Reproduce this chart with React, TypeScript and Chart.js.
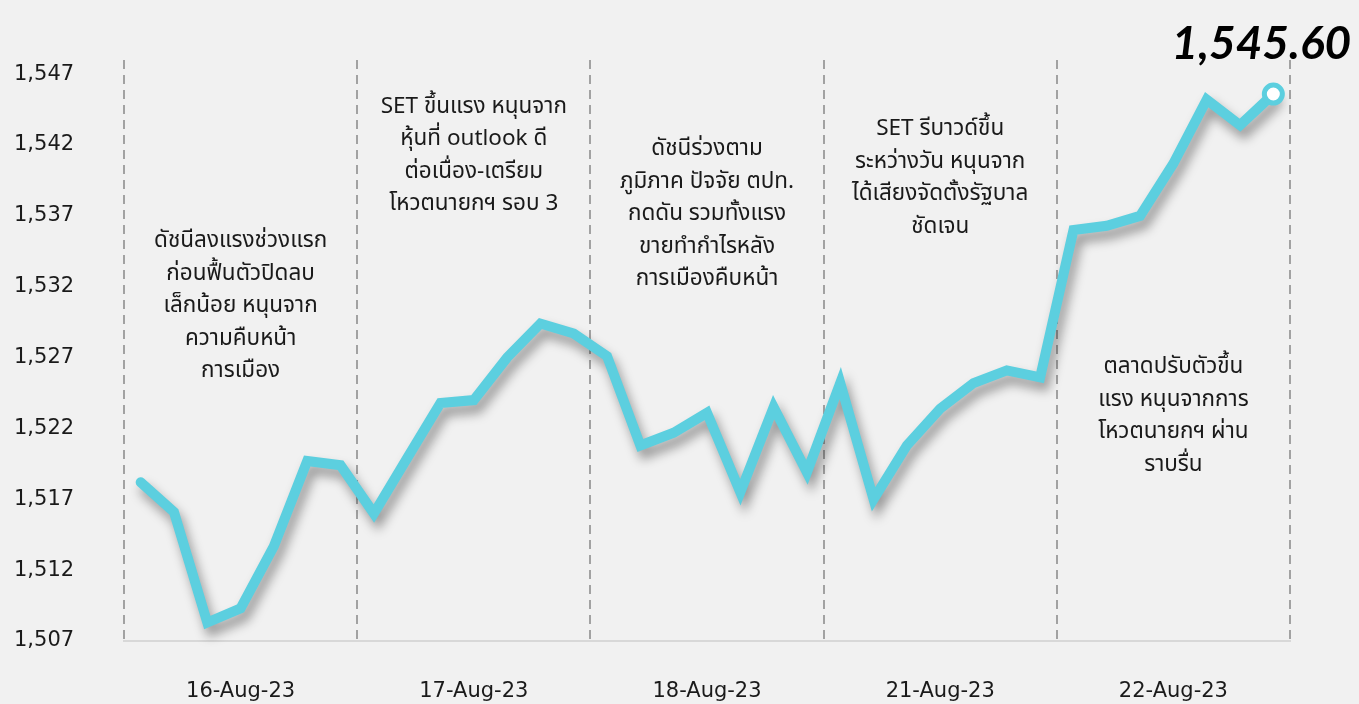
import { useEffect, useRef } from 'react';
import { Chart, registerables } from 'chart.js';

Chart.register(...registerables);

// ---------- data ----------
const days = ['16-Aug-23', '17-Aug-23', '18-Aug-23', '21-Aug-23', '22-Aug-23'];
const pointsPerDay = 7;
const xCategories = days.flatMap((d) => Array.from({ length: pointsPerDay }, () => d));

const setIndexValues = [
  1518.2, 1516.1, 1508.3, 1509.3, 1513.7, 1519.7, 1519.4,
  1516.0, 1519.9, 1523.8, 1524.0, 1527.0, 1529.4, 1528.7,
  1527.1, 1520.8, 1521.7, 1523.1, 1517.5, 1523.5, 1518.9,
  1525.2, 1517.0, 1520.8, 1523.4, 1525.2, 1526.1, 1525.6,
  1536.0, 1536.3, 1537.0, 1540.7, 1545.2, 1543.4, 1545.6,
];

const yTickValues = [1507, 1512, 1517, 1522, 1527, 1532, 1537, 1542, 1547];
const yMin = 1507;
const yMax = 1548;

const lastValueLabel = '1,545.60';

const dayNotes: string[][] = [
  ['ดัชนีลงแรงช่วงแรก', 'ก่อนฟื้นตัวปิดลบ', 'เล็กน้อย หนุนจาก', 'ความคืบหน้า', 'การเมือง'],
  ['SET ขึ้นแรง หนุนจาก', 'หุ้นที่ outlook ดี', 'ต่อเนื่อง-เตรียม', 'โหวตนายกฯ รอบ 3'],
  ['ดัชนีร่วงตาม', 'ภูมิภาค ปัจจัย ตปท.', 'กดดัน รวมทั้งแรง', 'ขายทำกำไรหลัง', 'การเมืองคืบหน้า'],
  ['SET รีบาวด์ขึ้น', 'ระหว่างวัน หนุนจาก', 'ได้เสียงจัดตั้งรัฐบาล', 'ชัดเจน'],
  ['ตลาดปรับตัวขึ้น', 'แรง หนุนจากการ', 'โหวตนายกฯ ผ่าน', 'ราบรื่น'],
];
// value on the y scale where the first line of each note sits
const dayNoteTopValues = [1535.1, 1544.6, 1541.6, 1543.0, 1526.2];

// ---------- styles ----------
const LINE_COLOR = '#5ccfdf';
const BG = '#f1f1f1';
const GRID_COLOR = '#a2a2a2';
const TEXT_COLOR = '#1a1a1a';
const THAI_FONT = "'Noto Sans Thai', 'Noto Sans', 'DejaVu Sans', sans-serif";

export default function App() {
  const canvasRef = useRef<HTMLCanvasElement | null>(null);

  useEffect(() => {
    const canvas = canvasRef.current;
    if (!canvas) return;

    const bgPlugin = {
      id: 'bg',
      beforeDraw(chart: any) {
        const { ctx, width, height } = chart;
        ctx.save();
        ctx.fillStyle = BG;
        ctx.fillRect(0, 0, width, height);
        ctx.restore();
      },
    };

    const shadowPlugin = {
      id: 'lineShadow',
      beforeDatasetDraw(chart: any) {
        const ctx = chart.ctx;
        ctx.save();
        ctx.shadowColor = 'rgba(0,0,0,0.38)';
        ctx.shadowBlur = 11;
        ctx.shadowOffsetX = 4;
        ctx.shadowOffsetY = 8;
      },
      afterDatasetDraw(chart: any) {
        chart.ctx.restore();
      },
    };

    const lastIdx = setIndexValues.length - 1;

    const notesPlugin = {
      id: 'notes',
      afterDatasetsDraw(chart: any) {
        const { ctx, scales } = chart;
        const xs = scales.x;
        const ys = scales.y;
        ctx.save();
        ctx.fillStyle = TEXT_COLOR;
        ctx.textAlign = 'center';
        ctx.textBaseline = 'middle';
        ctx.font = `22.5px ${THAI_FONT}`;
        dayNotes.forEach((lines, d) => {
          const cx = xs.getPixelForValue(d * pointsPerDay + 3);
          const top = ys.getPixelForValue(dayNoteTopValues[d]);
          lines.forEach((line, i) => {
            ctx.fillText(line, cx, top + i * 32.5);
          });
        });
        // last value marker (drawn without shadow) and label
        const px = xs.getPixelForValue(lastIdx);
        const py = ys.getPixelForValue(setIndexValues[lastIdx]);
        ctx.beginPath();
        ctx.arc(px, py, 9, 0, Math.PI * 2);
        ctx.fillStyle = '#ffffff';
        ctx.fill();
        ctx.lineWidth = 5;
        ctx.strokeStyle = LINE_COLOR;
        ctx.stroke();

        ctx.font = "italic bold 46px 'Lato', 'DejaVu Sans', sans-serif";
        ctx.fillStyle = '#000';
        ctx.fillText(lastValueLabel, px - 12, py - 50);
        ctx.restore();
      },
    };

    const chart = new Chart(canvas, {
      type: 'line',
      data: {
        labels: xCategories,
        datasets: [
          {
            data: setIndexValues,
            borderColor: LINE_COLOR,
            borderWidth: 10,
            borderCapStyle: 'round',
            borderJoinStyle: 'miter',
            tension: 0,
            fill: false,
            pointRadius: 0,
            pointHoverRadius: 0,
            clip: false as any,
          },
        ],
      },
      options: {
        responsive: false,
        animation: false,
        devicePixelRatio: 1,
        layout: { padding: { left: 14, right: 69, top: 60, bottom: 0 } },
        plugins: {
          legend: { display: false },
          tooltip: { enabled: false },
          title: { display: false },
        },
        scales: {
          x: {
            type: 'category',
            offset: true,
            afterFit: (s: any) => {
              s.height = 63;
            },
            grid: {
              offset: true,
              drawTicks: false,
              lineWidth: 2,
              color: (c: any) =>
                c.index === undefined || c.index % pointsPerDay === 0 ? GRID_COLOR : 'rgba(0,0,0,0)',
            },
            border: { display: true, color: '#d8d8d8', width: 2, dash: [9, 6] },
            ticks: {
              autoSkip: false,
              maxRotation: 0,
              padding: 38,
              color: TEXT_COLOR,
              font: { family: "'DejaVu Sans', sans-serif", size: 21 },
              callback: (_v: any, i: number) => (i % pointsPerDay === 3 ? xCategories[i] : ''),
            },
          },
          y: {
            type: 'linear',
            min: yMin,
            max: yMax,
            afterFit: (s: any) => {
              s.width = 110;
            },
            afterBuildTicks: (s: any) => {
              s.ticks = yTickValues.map((v) => ({ value: v }));
            },
            grid: { display: false },
            border: { display: false },
            ticks: {
              crossAlign: 'far',
              color: TEXT_COLOR,
              font: { family: "'DejaVu Sans', sans-serif", size: 21 },
              callback: (v: any) => Number(v).toLocaleString('en-US'),
            },
          },
        },
      },
      plugins: [bgPlugin, shadowPlugin, notesPlugin],
    } as any);

    return () => chart.destroy();
  }, []);

  return (
    <div style={{ position: 'fixed', left: 0, top: 0, width: 1359, height: 704 }}>
      <canvas ref={canvasRef} width={1359} height={704} style={{ display: 'block' }} />
    </div>
  );
}
